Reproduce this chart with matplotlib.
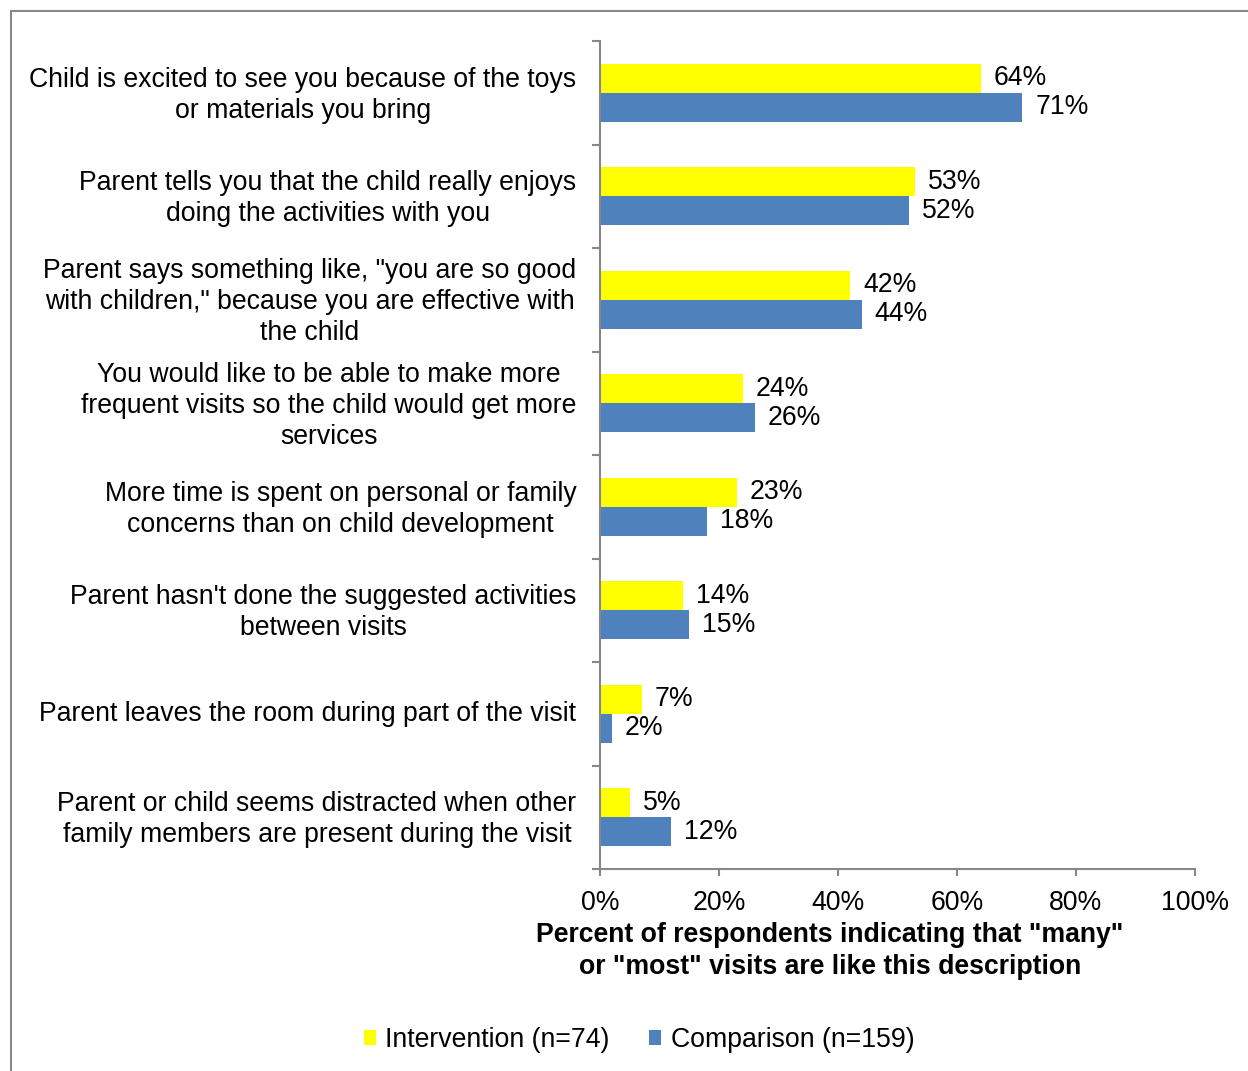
import matplotlib.pyplot as plt
import numpy as np
from matplotlib.patches import Rectangle

plt.rcParams['font.family'] = ['Liberation Sans', 'DejaVu Sans']

statements = [
    'Child is excited to see you because of the toys\nor materials you bring',
    'Parent tells you that the child really enjoys\ndoing the activities with you',
    'Parent says something like, "you are so good\nwith children," because you are effective with\nthe child',
    'You would like to be able to make more\nfrequent visits so the child would get more\nservices',
    'More time is spent on personal or family\nconcerns than on child development',
    "Parent hasn't done the suggested activities\nbetween visits",
    'Parent leaves the room during part of the visit',
    'Parent or child seems distracted when other\nfamily members are present during the visit',
]
intervention = [64, 53, 42, 24, 23, 14, 7, 5]
comparison = [71, 52, 44, 26, 18, 15, 2, 12]
x_ticks = [0, 20, 40, 60, 80, 100]

yellow = '#FFFF00'
blue = '#4F81BD'
grey = '#878787'
fs = 19.2

fig = plt.figure(figsize=(12.48, 10.71), dpi=100)
ax = fig.add_axes([600 / 1248, 1 - 869 / 1071, 595 / 1248, 828 / 1071])

# outer chart frame (runs off the right and bottom edges)
fig.patches.append(Rectangle((11 / 1248, -0.05), 1.1, 1 - 11 / 1071 + 0.05,
                             transform=fig.transFigure, fill=False,
                             edgecolor=grey, linewidth=1.5))

y = np.arange(len(statements))
h = 0.28
ax.barh(y - h / 2, intervention, height=h, color=yellow, label='Intervention (n=74)')
ax.barh(y + h / 2, comparison, height=h, color=blue, label='Comparison (n=159)')

for i in range(len(statements)):
    ax.annotate(f'{intervention[i]}%', (intervention[i], y[i] - h / 2),
                xytext=(13, 0), textcoords='offset pixels',
                va='center', ha='left', fontsize=fs)
    ax.annotate(f'{comparison[i]}%', (comparison[i], y[i] + h / 2),
                xytext=(13, 0), textcoords='offset pixels',
                va='center', ha='left', fontsize=fs)

ax.set_xlim(0, 100)
ax.set_ylim(len(statements) - 0.5, -0.5)

ax.set_xticks(x_ticks)
ax.set_xticklabels([f'{t}%' for t in x_ticks], fontsize=fs)
ax.tick_params(axis='x', length=5, width=1.5, color=grey, pad=10)

# category labels sit a touch above the group centre
ax.set_yticks(y - 0.03)
ax.set_yticklabels(statements, fontsize=fs)
ax.tick_params(axis='y', which='major', length=0, pad=17)
for lbl in ax.get_yticklabels():
    lbl.set_multialignment('center')
    lbl.set_linespacing(1.25)
ax.set_yticks(np.arange(-0.5, len(statements)), minor=True)
ax.tick_params(axis='y', which='minor', length=6, width=1.5, color=grey)

for side in ['top', 'right']:
    ax.spines[side].set_visible(False)
for side in ['left', 'bottom']:
    ax.spines[side].set_color(grey)
    ax.spines[side].set_linewidth(1.5)

fig.text(830 / 1248, 1 - 951 / 1071,
         'Percent of respondents indicating that "many"\nor "most" visits are like this description',
         ha='center', va='center', fontsize=fs, fontweight='bold', linespacing=1.25)

fig.legend(loc='center', bbox_to_anchor=(639 / 1248, 1 - 1040 / 1071), ncol=2,
           frameon=False, fontsize=fs, handlelength=0.45, handleheight=0.45,
           handletextpad=0.35, columnspacing=1.5)

fig.savefig('out.png', dpi=100)
